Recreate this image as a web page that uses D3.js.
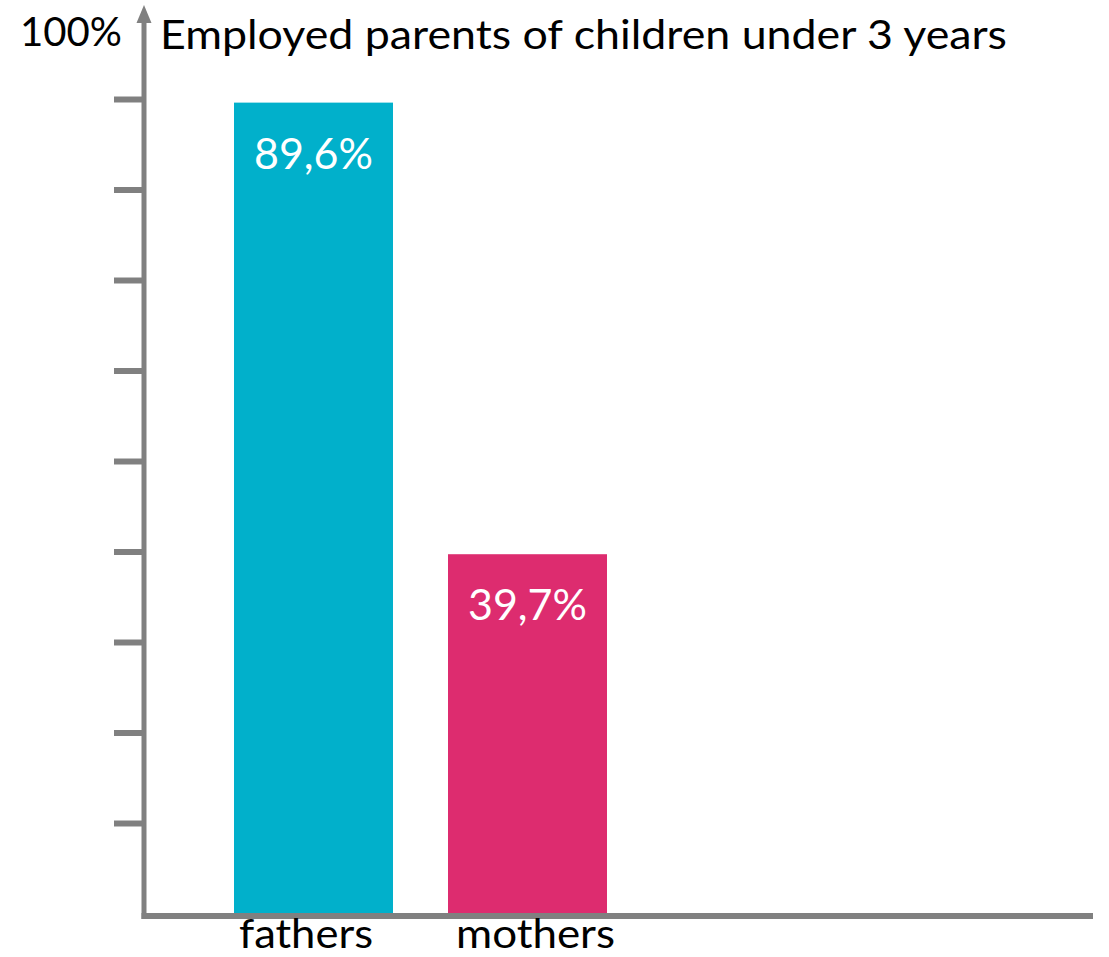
<!DOCTYPE html>
<html><head><meta charset="utf-8">
<script src="https://cdn.jsdelivr.net/npm/d3@7"></script>
<style>body{margin:0;background:#fff}svg{display:block}text{font-family:Lato,"Open Sans",sans-serif}</style>
</head><body>
<svg id="c" width="1109" height="957"></svg>
<script>
const categories = ["fathers", "mothers"];
const values = [89.6, 39.7];
const valueLabels = ["89,6%", "39,7%"];
const tickValues = [10, 20, 30, 40, 50, 60, 70, 80, 90];
const title = "Employed parents of children under 3 years";
const topLabel = "100%";
const colors = ["#01B0CB", "#DD2C6F"];

const svg = d3.select("#c");
const gray = "#808080";
const y = d3.scaleLinear().domain([0, 100]).range([913.5, 8.5]);
const x = d3.scaleBand().domain(categories).range([127, 714]).paddingInner(0.257).paddingOuter(0.5);
// label positions are slightly spread relative to bars in the reference
const xl = d3.scaleBand().domain(categories).range([76.5, 765]).paddingInner(0).paddingOuter(0.5);

// bars
svg.selectAll("rect.bar").data(values).join("rect")
  .attr("class", "bar")
  .attr("x", (d, i) => x(categories[i]))
  .attr("width", x.bandwidth())
  .attr("y", d => y(d))
  .attr("height", d => y(0) - y(d))
  .attr("fill", (d, i) => colors[i]);

// value labels
svg.selectAll("text.val").data(values).join("text")
  .attr("class", "val")
  .attr("x", (d, i) => x(categories[i]) + x.bandwidth() / 2)
  .attr("y", d => y(d) + 66)
  .attr("text-anchor", "middle")
  .attr("fill", "#fff")
  .attr("font-size", 43)
  .text((d, i) => valueLabels[i]);

// y axis with ticks
const yAxis = d3.axisLeft(y).tickValues(tickValues).tickSize(30).tickFormat("");
const ga = svg.append("g").attr("transform", "translate(144,0)").call(yAxis);
ga.select(".domain").remove();
ga.selectAll(".tick line").attr("stroke", gray).attr("stroke-width", 6);

svg.append("line").attr("x1", 144).attr("x2", 144).attr("y1", 20).attr("y2", 919)
  .attr("stroke", gray).attr("stroke-width", 5);
svg.append("path").attr("d", "M136.5,23 L144,5 L151.5,23 Z").attr("fill", gray);

// baseline
svg.append("line").attr("x1", 141.5).attr("x2", 1093).attr("y1", y(0) + 2.5).attr("y2", y(0) + 2.5)
  .attr("stroke", gray).attr("stroke-width", 6);

// category labels
svg.selectAll("text.cat").data(categories).join("text")
  .attr("class", "cat")
  .attr("x", d => xl(d) + xl.bandwidth() / 2)
  .attr("y", 948)
  .attr("text-anchor", "middle")
  .attr("font-size", 40)
  .attr("fill", "#000")
  .attr("textLength", (d, i) => i === 0 ? 134 : 159)
  .attr("lengthAdjust", "spacingAndGlyphs")
  .text(d => d);

svg.append("text").attr("x", 20).attr("y", 46).attr("font-size", 40).attr("fill", "#000")
  .attr("textLength", 102).attr("lengthAdjust", "spacingAndGlyphs").text(topLabel);
svg.append("text").attr("x", 160).attr("y", 49).attr("font-size", 40).attr("fill", "#000")
  .attr("textLength", 847).attr("lengthAdjust", "spacingAndGlyphs").text(title);
</script>
</body></html>
